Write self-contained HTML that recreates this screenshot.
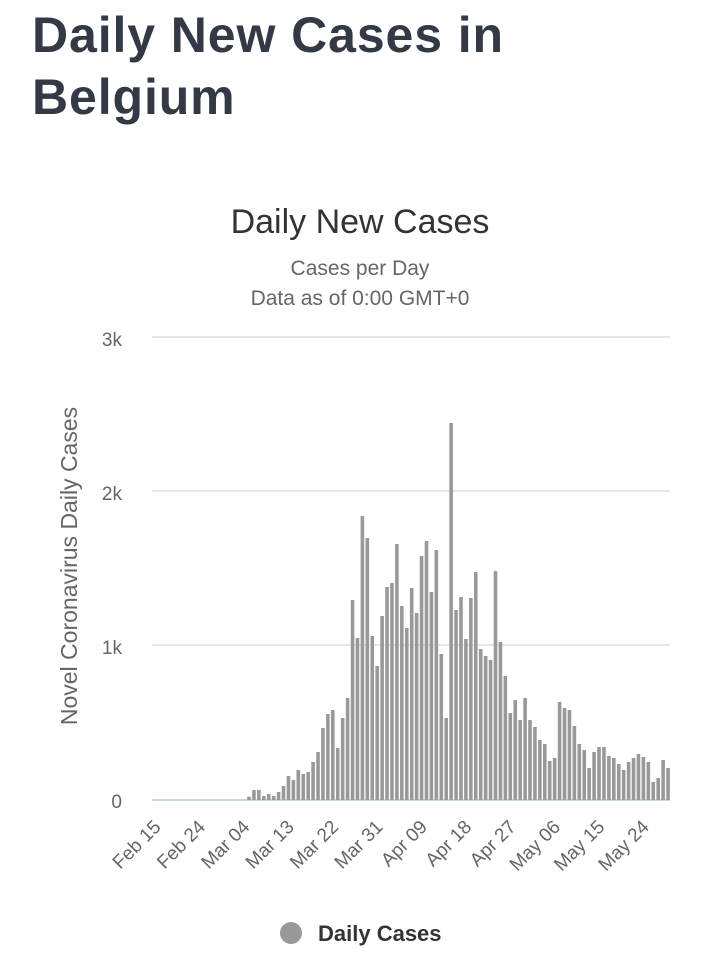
<!DOCTYPE html>
<html><head><meta charset="utf-8"><style>
html,body{margin:0;padding:0;background:#fff;width:720px;height:961px;overflow:hidden}
h1{position:absolute;left:32px;top:4px;margin:0;font:bold 50px/62px "Liberation Sans",sans-serif;color:#343a45;letter-spacing:0.9px}
svg{position:absolute;left:0;top:0}
</style></head><body>
<h1>Daily New Cases in<br>Belgium</h1>
<svg id="s" width="720" height="961" font-family="Liberation Sans, sans-serif">
<text x="360" y="233" text-anchor="middle" font-size="34" fill="#333">Daily New Cases</text>
<text x="360" y="275" text-anchor="middle" font-size="21" fill="#666">Cases per Day</text>
<text x="360" y="305" text-anchor="middle" font-size="21" fill="#666">Data as of 0:00 GMT+0</text>
<g stroke="#e6e6e6" stroke-width="2"><line x1="152" x2="670" y1="337" y2="337"/><line x1="152" x2="670" y1="491" y2="491"/><line x1="152" x2="670" y1="645" y2="645"/></g>
<line x1="152" x2="670" y1="800" y2="800" stroke="#ccd6eb" stroke-width="2"/>
<g font-size="19" fill="#666" text-anchor="end"><text x="122" y="346">3k</text><text x="122" y="500">2k</text><text x="122" y="654">1k</text><text x="122" y="808">0</text></g>
<text transform="translate(77,566) rotate(-90)" text-anchor="middle" font-size="23" fill="#666">Novel Coronavirus Daily Cases</text>
<g id="bars" fill="#999"></g>
<g id="xl" font-size="19" fill="#666" text-anchor="end"></g>
<circle cx="291" cy="933" r="11" fill="#999"/>
<text x="318" y="941" font-size="22" font-weight="bold" fill="#333">Daily Cases</text>
</svg>
<script>
var tops=[796.7,790,790,796,794,796,792,786,776,780,770,774,772,762,752,728,714,710,748,718,698,600,638,516,538,636,666,616,587,583,544,
606,628,588,613,556,541,592,550,654,718,423,610,597,639,598,572,649,656,660,571,642,676,713,700,720,698,720,727,740,744,761,758,702,708,710,726,744,750,768,752,747,747,756,758,764,770,762,758,754,757,762,782,778,760,768];
var g=document.getElementById('bars'),h='';
for(var i=0;i<tops.length;i++){var x=249+i*4.93;h+='<rect x="'+(x-1.8).toFixed(2)+'" y="'+tops[i]+'" width="3.6" height="'+(800-tops[i]).toFixed(1)+'"/>';}
g.innerHTML=h;
var L=['Feb 15','Feb 24','Mar 04','Mar 13','Mar 22','Mar 31','Apr 09','Apr 18','Apr 27','May 06','May 15','May 24'],s='';
for(var k=0;k<L.length;k++){var x=162+k*44.37;s+='<text transform="translate('+x.toFixed(1)+',828) rotate(-45)">'+L[k]+'</text>';}
document.getElementById('xl').innerHTML=s;
</script>
</body></html>
